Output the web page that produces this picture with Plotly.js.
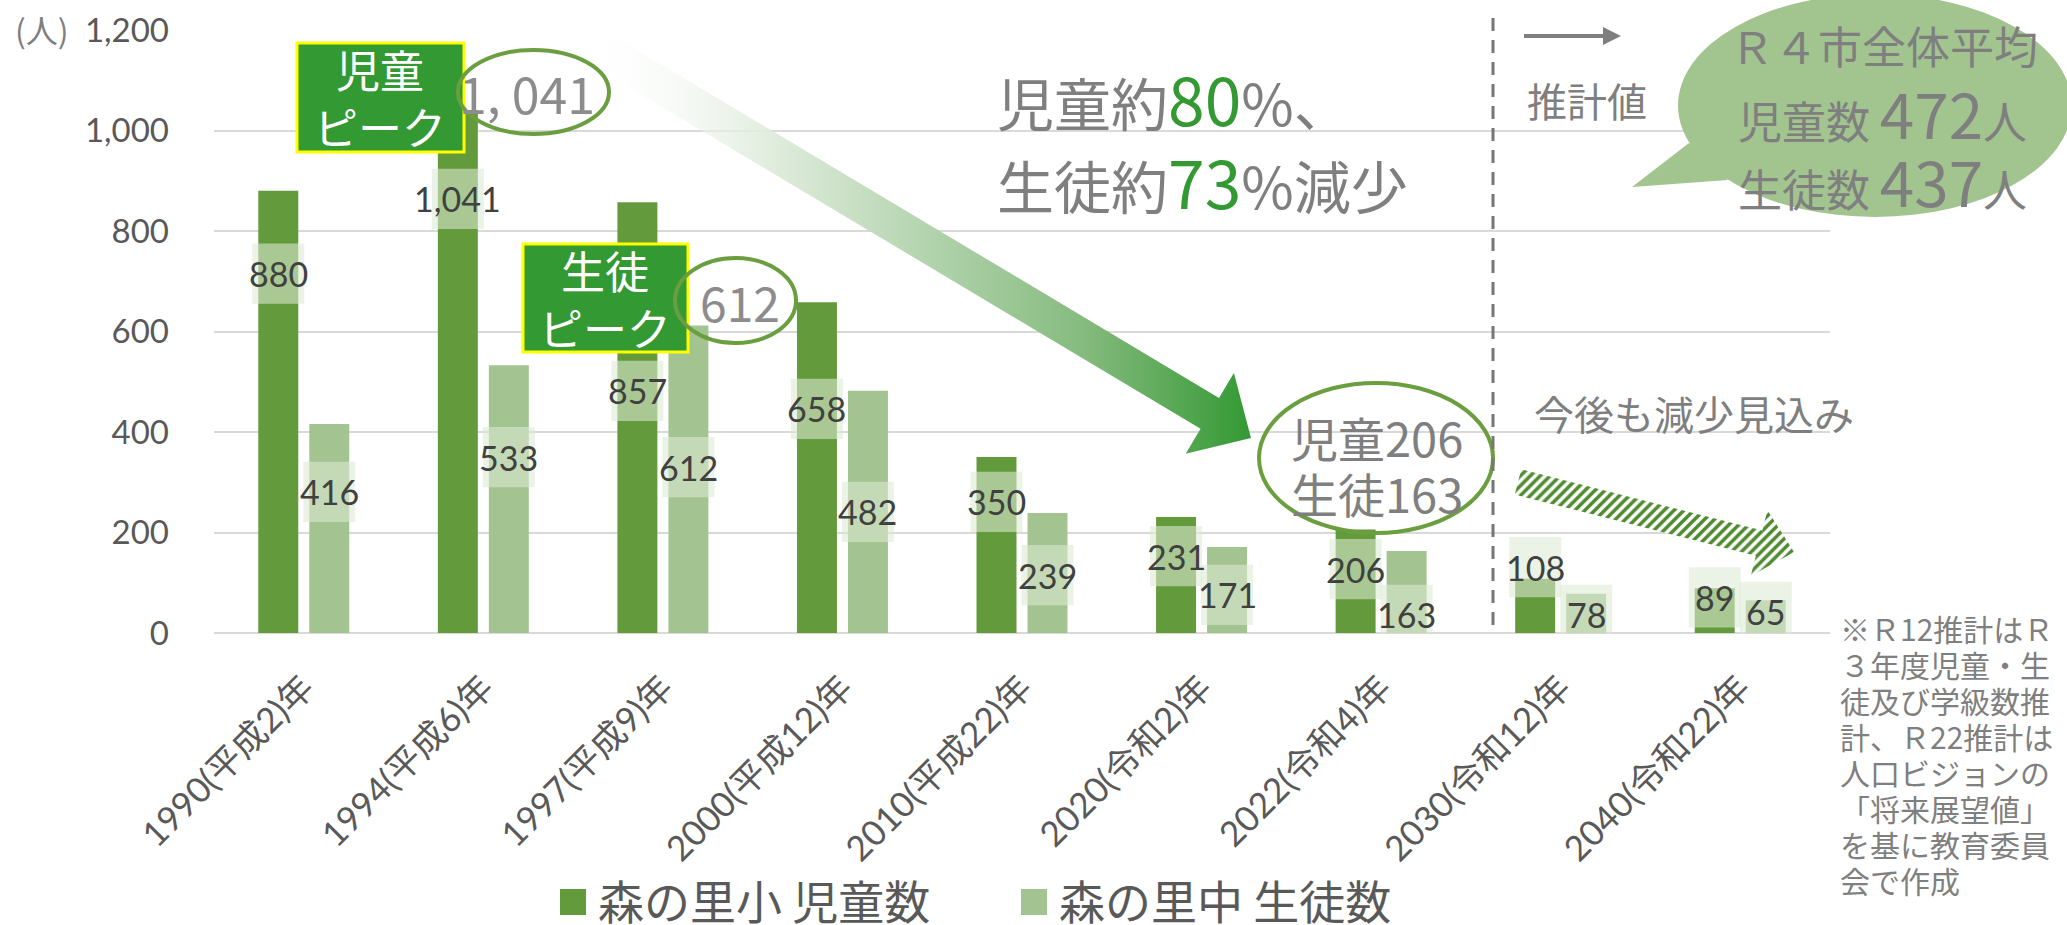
<!DOCTYPE html>
<html>
<head>
<meta charset="utf-8">
<script src="https://cdn.plot.ly/plotly-3.0.1.min.js"></script>
<style>
html, body { margin: 0; padding: 0; background: #fff; }
#plotDiv { width: 2067px; height: 925px; }
</style>
</head>
<body>
<div id="plotDiv"></div>
<script>
// 年度
var years = ['1990(平成2)年', '1994(平成6)年', '1997(平成9)年', '2000(平成12)年', '2010(平成22)年',
             '2020(令和2)年', '2022(令和4)年', '2030(令和12)年', '2040(令和22)年'];
// 森の里小 児童数
var children = [880, 1041, 857, 658, 350, 231, 206, 108, 89];
// 森の里中 生徒数
var students = [416, 533, 612, 482, 239, 171, 163, 78, 65];

// where each data label sits (value units)
var childLabelY = [715, 864, 482, 446, 261, 153, 127, 131, 71];
var studentLabelY = [281, 350, 330, 241, 115, 76, 36, 36, 42];

var noteLines = ['※Ｒ12推計はＲ', '３年度児童・生', '徒及び学級数推', '計、Ｒ22推計は',
                 '人口ビジョンの', '「将来展望値」', 'を基に教育委員', '会で作成'];

var W = 2067, H = 925;
// plot area in pixels
var L = 214, R = 1830, T = 30, B = 633;

var dark = '#639a3c';
var light = '#a3c490';
var gray = '#7f7f7f';
var jp = 'Noto Sans CJK JP';
var narrow = 'Liberation Sans Narrow, Noto Sans CJK JP';
var num = 'Lato, Noto Sans CJK JP';

function px(x){ return (x - L) / (R - L); }
function py(y){ return (B - y) / (B - T); }

function txt(text, x, y, size, color, family, anchor){
  return {xref: 'paper', yref: 'paper', x: px(x), y: py(y), text: text, showarrow: false,
          xanchor: anchor || 'center', yanchor: 'middle',
          font: {size: size, color: color, family: family}};
}

function rect(x0, y0, x1, y1, fill, line){
  return {type: 'rect', xref: 'paper', yref: 'paper', x0: px(x0), y0: py(y0), x1: px(x1), y1: py(y1),
          fillcolor: fill, line: line || {width: 0}, layer: 'above'};
}

function oval(x0, y0, x1, y1, fill, line){
  return {type: 'circle', xref: 'paper', yref: 'paper', x0: px(x0), y0: py(y0), x1: px(x1), y1: py(y1),
          fillcolor: fill, line: line || {width: 0}, layer: 'above'};
}

function poly(pts, fill){
  var d = pts.map(function(p, i){ return (i ? 'L' : 'M') + px(p[0]) + ',' + py(p[1]); }).join(' ') + ' Z';
  return {type: 'path', xref: 'paper', yref: 'paper', path: d, fillcolor: fill, line: {width: 0}, layer: 'above'};
}

// block arrow outline from start to tip
function arrowPoly(sx, sy, tx, ty, w, hw, hl){
  var dx = tx - sx, dy = ty - sy, len = Math.sqrt(dx*dx + dy*dy);
  var ux = dx/len, uy = dy/len, nx = -uy, ny = ux;
  var bx = tx - ux*hl, by = ty - uy*hl;
  var pts = [[sx - nx*w, sy - ny*w], [bx - nx*w, by - ny*w], [bx - nx*hw, by - ny*hw], [tx, ty],
             [bx + nx*hw, by + ny*hw], [bx + nx*w, by + ny*w], [sx + nx*w, sy + ny*w]];
  pts.push(pts[0]);
  return {x: pts.map(function(p){ return p[0]; }), y: pts.map(function(p){ return p[1]; })};
}

// offset of each bar from the category centre (category units)
var off = 0.142, half = 0.145;
var boxFill = 'rgba(221,234,212,0.58)';

var shapes = [];
var anns = [];

for (let i = 0; i < years.length; i++){
  var c = childLabelY[i], s = studentLabelY[i];
  shapes.push({type: 'rect', xref: 'x', yref: 'y', x0: i - off - half, x1: i - off + half,
               y0: Math.max(0, c - 60), y1: c + 60, fillcolor: boxFill, line: {width: 0}});
  shapes.push({type: 'rect', xref: 'x', yref: 'y', x0: i + off - half, x1: i + off + half,
               y0: Math.max(0, s - 60), y1: s + 60, fillcolor: boxFill, line: {width: 0}});
  anns.push({xref: 'x', yref: 'y', x: i - off, y: c, text: children[i].toLocaleString('en-US'), showarrow: false,
             font: {size: 34, color: '#404040', family: num}});
  anns.push({xref: 'x', yref: 'y', x: i + off, y: s, text: students[i].toLocaleString('en-US'), showarrow: false,
             font: {size: 34, color: '#404040', family: num}});
}

// ピーク boxes and ovals
shapes.push(rect(297, 43, 464, 152, '#339933', {color: '#ffff00', width: 3}));
shapes.push(oval(458, 50, 609, 134, 'rgba(0,0,0,0)', {color: '#6a9e3f', width: 4}));
shapes.push(rect(523, 244, 688, 352, '#339933', {color: '#ffff00', width: 3}));
shapes.push(oval(675, 258, 796, 343, 'rgba(0,0,0,0)', {color: '#6a9e3f', width: 4}));
shapes.push(oval(1259, 383, 1493, 533, 'rgba(0,0,0,0)', {color: '#6a9e3f', width: 4}));

// 推計値 divider and arrow
shapes.push({type: 'line', xref: 'paper', yref: 'paper', x0: px(1493), x1: px(1493), y0: py(18), y1: py(625),
             line: {color: '#767676', width: 3, dash: '13px,9px'}, layer: 'above'});
shapes.push({type: 'line', xref: 'paper', yref: 'paper', x0: px(1524), x1: px(1606), y0: py(36), y1: py(36),
             line: {color: gray, width: 4}, layer: 'above'});
shapes.push(poly([[1603, 27], [1621, 36], [1603, 45]], gray));

// speech bubble
shapes.push(oval(1678, -6, 2072, 217, '#a2c48f'));
shapes.push(poly([[1689, 143], [1632, 187], [1728, 180]], '#a2c48f'));

// legend squares
shapes.push(rect(560, 889, 586, 915, dark));
shapes.push(rect(1021, 889, 1047, 915, light));

anns.push(txt('(人)', 42, 29, 32, gray, jp));
anns.push(txt('児童<br>ピーク', 380, 97, 44, '#ffffff', jp));
anns.push(txt('1, 041', 527, 92, 50, '#8c8c8c', narrow));
anns.push(txt('生徒<br>ピーク', 605, 298, 44, '#ffffff', jp));
anns.push(txt('612', 740, 301, 48, '#8c8c8c', narrow));
anns.push(txt('児童約<span style="color:#339933;font-size:66px">80</span>%、', 995, 97, 57, gray, narrow, 'left'));
anns.push(txt('生徒約<span style="color:#339933;font-size:66px">73</span>%減少', 995, 180, 57, gray, narrow, 'left'));
anns.push(txt('児童206', 1377, 437, 47, gray, narrow));
anns.push(txt('生徒163', 1377, 492, 47, gray, narrow));
anns.push(txt('推計値', 1525, 100, 40, gray, jp, 'left'));
anns.push(txt('Ｒ４市全体平均', 1884, 45, 44, gray, narrow));
anns.push(txt('児童数 <span style="font-size:62px">472</span>人', 1882, 112, 44, gray, narrow));
anns.push(txt('生徒数 <span style="font-size:62px">437</span>人', 1882, 180, 44, gray, narrow));
anns.push(txt('今後も減少見込み', 1532, 413, 40, gray, jp, 'left'));
for (let k = 0; k < noteLines.length; k++){
  anns.push(txt(noteLines[k], 1838, 628 + 36*k, 30, gray, jp, 'left'));
}
anns.push(txt('森の里小 児童数', 596, 899, 46, '#595959', jp, 'left'));
anns.push(txt('森の里中 生徒数', 1057, 899, 46, '#595959', jp, 'left'));

var trace1 = {
  x: years, y: children, type: 'bar', name: '森の里小 児童数',
  marker: {color: dark}, hoverinfo: 'x+y'
};

var trace2 = {
  x: years, y: students, type: 'bar', name: '森の里中 生徒数',
  marker: {color: light}, hoverinfo: 'x+y'
};

// big fading arrow
var a1 = arrowPoly(585, 40, 1251, 438, 18, 47, 48);
var trace3 = {
  x: a1.x, y: a1.y, xaxis: 'x2', yaxis: 'y2', type: 'scatter', mode: 'lines',
  fill: 'toself', line: {width: 0}, hoverinfo: 'skip', showlegend: false,
  fillgradient: {type: 'horizontal',
                 colorscale: [[0, 'rgba(255,255,255,0)'], [0.3, 'rgba(222,235,219,1)'], [0.75, '#86bb7f'], [1, '#339933']]}
};

// hatched arrow
var a2 = arrowPoly(1518, 482, 1794, 552, 13, 34, 36);
var trace4 = {
  x: a2.x, y: a2.y, xaxis: 'x2', yaxis: 'y2', type: 'scatter', mode: 'lines',
  fill: 'toself', fillcolor: '#ffffff', line: {width: 0}, hoverinfo: 'skip', showlegend: false,
  fillpattern: {shape: '/', fgcolor: '#4e8a2e', bgcolor: '#ffffff', size: 7, solidity: 0.5}
};

var layout = {
  width: W, height: H,
  margin: {l: L, r: W - R, t: T, b: H - B, pad: 0},
  paper_bgcolor: '#ffffff', plot_bgcolor: '#ffffff',
  showlegend: false,
  barmode: 'group', bargap: 0.432, bargroupgap: 0.216,
  font: {family: num, color: '#595959'},
  xaxis: {type: 'category', tickangle: -45, ticklabelstandoff: 26, showgrid: false, showline: false,
          zeroline: false, ticks: '', fixedrange: true,
          tickfont: {size: 35, family: num, color: '#595959'}},
  yaxis: {range: [0, 1200], dtick: 200, tickformat: ',d', gridcolor: '#d9d9d9', gridwidth: 2,
          zeroline: true, zerolinecolor: '#d9d9d9', zerolinewidth: 2, showline: false, ticks: '',
          ticklabelstandoff: 44, fixedrange: true,
          tickfont: {size: 33, family: num, color: '#595959'}},
  xaxis2: {overlaying: 'x', anchor: 'y2', range: [L, R], visible: false, fixedrange: true},
  yaxis2: {overlaying: 'y', anchor: 'x2', range: [B, T], visible: false, fixedrange: true},
  shapes: shapes,
  annotations: anns
};

Plotly.newPlot('plotDiv', [trace1, trace2, trace3, trace4], layout, {displayModeBar: false, staticPlot: true});
</script>
</body>
</html>
